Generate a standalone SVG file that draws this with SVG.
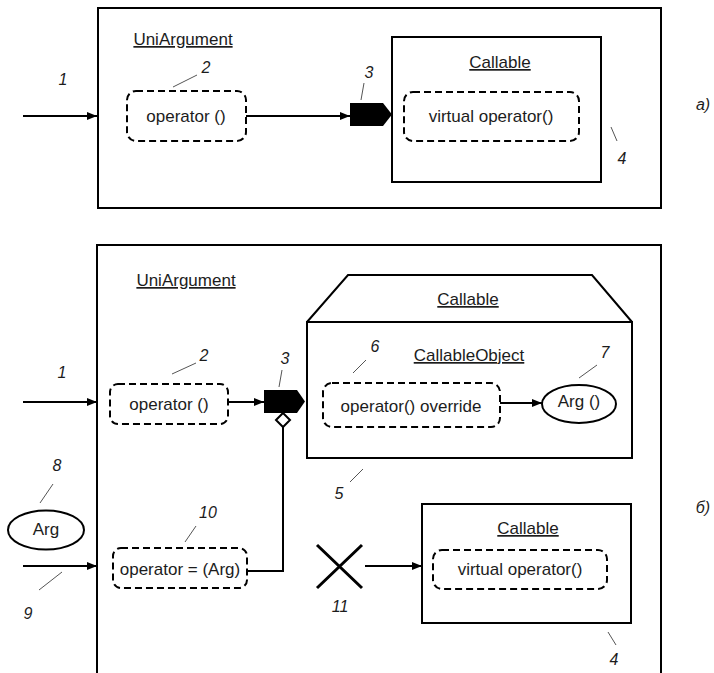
<svg xmlns="http://www.w3.org/2000/svg" width="714" height="673" viewBox="0 0 714 673">
  <style>
    .frame { fill: none; stroke: #000; stroke-width: 2; }
    .dash { fill: none; stroke: #000; stroke-width: 2; stroke-dasharray: 7 4; }
    .ell { fill: #fff; stroke: #000; stroke-width: 2; }
    .wire { fill: none; stroke: #000; stroke-width: 2; }
    .lead { fill: none; stroke: #555; stroke-width: 1; }
    .port { fill: #000; stroke: none; }
    .t { font-family: "Liberation Sans", Arial, sans-serif; font-size: 17px; fill: #1c1c1c; text-anchor: middle; }
    .u { text-decoration: underline; }
    .n { font-family: "Liberation Sans", Arial, sans-serif; font-size: 16px; font-style: italic; fill: #1c1c1c; text-anchor: middle; }
  </style>
  <defs>
    <marker id="arrow" markerUnits="userSpaceOnUse" markerWidth="10" markerHeight="8" refX="10" refY="4" orient="auto">
      <path d="M0,0 L10,4 L0,8 z" fill="#000"/>
    </marker>
  </defs>
  <rect width="714" height="673" fill="#fff"/>

  <!-- ===== Variant (a) ===== -->
  <g id="a-uniargument">
    <rect class="frame" x="98" y="8" width="563" height="200"/>
    <text class="t u" x="183" y="45">UniArgument</text>
  </g>
  <g id="a-operator">
    <rect class="dash" x="127" y="91" width="119" height="50" rx="9"/>
    <text class="t" x="186" y="122">operator ()</text>
  </g>
  <g id="a-port">
    <polygon class="port" points="350,103 383,103 392,114.5 383,126 350,126"/>
  </g>
  <g id="a-callable">
    <rect class="frame" x="392" y="37" width="209" height="145"/>
    <text class="t u" x="500" y="68">Callable</text>
  </g>
  <g id="a-virtual-operator">
    <rect class="dash" x="404" y="92" width="175" height="49" rx="9"/>
    <text class="t" x="491" y="122">virtual operator()</text>
  </g>

  <!-- ===== Variant (б) ===== -->
  <g id="b-uniargument">
    <path class="frame" d="M97,680 L97,245 L661,245 L661,680"/>
    <text class="t u" x="186" y="286">UniArgument</text>
  </g>
  <g id="b-operator">
    <rect class="dash" x="110" y="384" width="118" height="40" rx="8"/>
    <text class="t" x="169" y="410">operator ()</text>
  </g>
  <g id="b-port">
    <polygon class="port" points="264,390 297,390 305,401.5 297,413 264,413"/>
    <polygon points="283,413 290,420 283,427 276,420" fill="#fff" stroke="#000" stroke-width="2"/>
  </g>
  <g id="b-callable">
    <path class="frame" d="M307,322 L348,275 L592,275 L632,322"/>
    <rect class="frame" x="307" y="322" width="325" height="136"/>
    <text class="t u" x="468" y="305">Callable</text>
    <text class="t u" x="469" y="361">CallableObject</text>
  </g>
  <g id="b-override">
    <rect class="dash" x="323" y="383" width="177" height="44" rx="9"/>
    <text class="t" x="411" y="412">operator() override</text>
  </g>
  <g id="b-arg-call">
    <ellipse class="ell" cx="579" cy="404" rx="37" ry="19"/>
    <text class="t" x="579" y="407">Arg ()</text>
  </g>
  <g id="b-arg">
    <ellipse class="ell" cx="46" cy="530" rx="38" ry="19.5"/>
    <text class="t" x="46" y="535">Arg</text>
  </g>
  <g id="b-assign">
    <rect class="dash" x="113" y="548" width="134" height="40" rx="8"/>
    <text class="t" x="180" y="575">operator = (Arg)</text>
  </g>
  <g id="b-cross">
    <path d="M317,545 L362,588 M362,545 L317,588" fill="none" stroke="#000" stroke-width="3"/>
  </g>
  <g id="b-callable-base">
    <rect class="frame" x="422" y="504" width="209" height="119"/>
    <text class="t u" x="528" y="534">Callable</text>
  </g>
  <g id="b-virtual-operator">
    <rect class="dash" x="433" y="550" width="174" height="39" rx="9"/>
    <text class="t" x="520" y="575">virtual operator()</text>
  </g>

  <!-- connectors -->
  <g id="connectors">
    <line class="wire" x1="23" y1="116" x2="97" y2="116" marker-end="url(#arrow)"/>
    <line class="wire" x1="246" y1="116" x2="350" y2="116" marker-end="url(#arrow)"/>
    <line class="wire" x1="23" y1="402" x2="97" y2="402" marker-end="url(#arrow)"/>
    <line class="wire" x1="228" y1="402" x2="264" y2="402" marker-end="url(#arrow)"/>
    <line class="wire" x1="500" y1="403" x2="542" y2="403" marker-end="url(#arrow)"/>
    <polyline class="wire" points="283,427 283,571 248,571"/>
    <line class="wire" x1="23" y1="566" x2="97" y2="566" marker-end="url(#arrow)"/>
    <line class="wire" x1="365" y1="566" x2="422" y2="566" marker-end="url(#arrow)"/>
  </g>

  <!-- reference numbers and their leader lines -->
  <g id="callouts">
    <text class="n" x="63" y="85">1</text>
    <text class="n" x="206" y="73">2</text>
    <line class="lead" x1="173" y1="87" x2="197" y2="75"/>
    <text class="n" x="369" y="78">3</text>
    <line class="lead" x1="364" y1="83" x2="361" y2="100"/>
    <text class="n" x="622" y="164">4</text>
    <line class="lead" x1="611" y1="127" x2="617" y2="141"/>
    <text class="n" x="703" y="110">а)</text>

    <text class="n" x="62" y="378">1</text>
    <text class="n" x="204" y="361">2</text>
    <line class="lead" x1="172" y1="374" x2="196" y2="363"/>
    <text class="n" x="285" y="364">3</text>
    <line class="lead" x1="282" y1="370" x2="279" y2="387"/>
    <text class="n" x="375" y="352">6</text>
    <line class="lead" x1="353" y1="373" x2="366" y2="360"/>
    <text class="n" x="605" y="358">7</text>
    <line class="lead" x1="579" y1="378" x2="597" y2="365"/>
    <text class="n" x="339" y="499">5</text>
    <line class="lead" x1="350" y1="482" x2="363" y2="469"/>
    <text class="n" x="57" y="471">8</text>
    <line class="lead" x1="40" y1="503" x2="53" y2="484"/>
    <text class="n" x="208" y="518">10</text>
    <line class="lead" x1="185" y1="542" x2="196" y2="526"/>
    <text class="n" x="28" y="619">9</text>
    <line class="lead" x1="39" y1="590" x2="62" y2="572"/>
    <text class="n" x="340" y="612">11</text>
    <text class="n" x="614" y="665">4</text>
    <line class="lead" x1="608" y1="632" x2="616" y2="645"/>
    <text class="n" x="703" y="513">б)</text>
  </g>
</svg>
